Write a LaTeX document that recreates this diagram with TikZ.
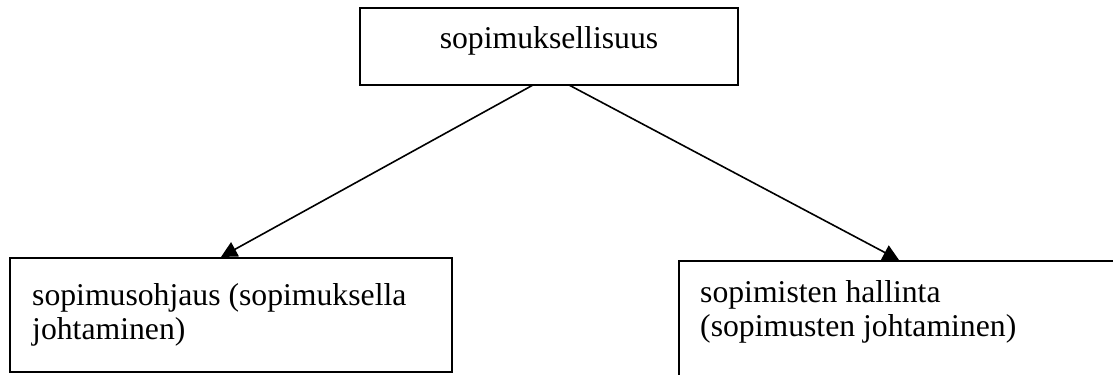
\documentclass[tikz,border=0pt]{standalone}
\usepackage{fontspec}
\setmainfont{Liberation Serif}
\usetikzlibrary{arrows.meta}
\begin{document}
\begin{tikzpicture}[x=1bp,y=-1bp,
  boxnode/.style={draw=black,line width=1.9bp,inner sep=0pt,rectangle},
  lbl/.style={inner sep=0pt,font=\fontsize{31.7bp}{34bp}\selectfont},
  conn/.style={line width=1.6bp,-{Triangle[length=16bp,width=16bp]}}]
\useasboundingbox (0,0) rectangle (1113,374);
\clip (0,0) rectangle (1113,374);
\node[boxnode,minimum width=378bp,minimum height=77bp] (top) at (549,46.5) {};
\node[boxnode,minimum width=442bp,minimum height=114bp] (left) at (231,315) {};
\node[boxnode,minimum width=460bp,minimum height=130bp] (right) at (909,326) {};
\node[lbl,anchor=base] (toptext) at (549,48) {sopimuksellisuus};
\node[lbl,anchor=base west] (lefttext) at (32,305) {\parbox[t]{415bp}{sopimusohjaus (sopimuksella\\johtaminen)}};
\node[lbl,anchor=base west] (righttext) at (700,302) {\parbox[t]{400bp}{sopimisten hallinta\\(sopimusten johtaminen)}};
\coordinate (ls) at (533,85);
\coordinate (rs) at (569,85);
\coordinate (lt) at (221,257);
\coordinate (rt) at (899,260);
\draw[conn] (ls) -- (lt);
\draw[conn] (rs) -- (rt);
\end{tikzpicture}
\end{document}
